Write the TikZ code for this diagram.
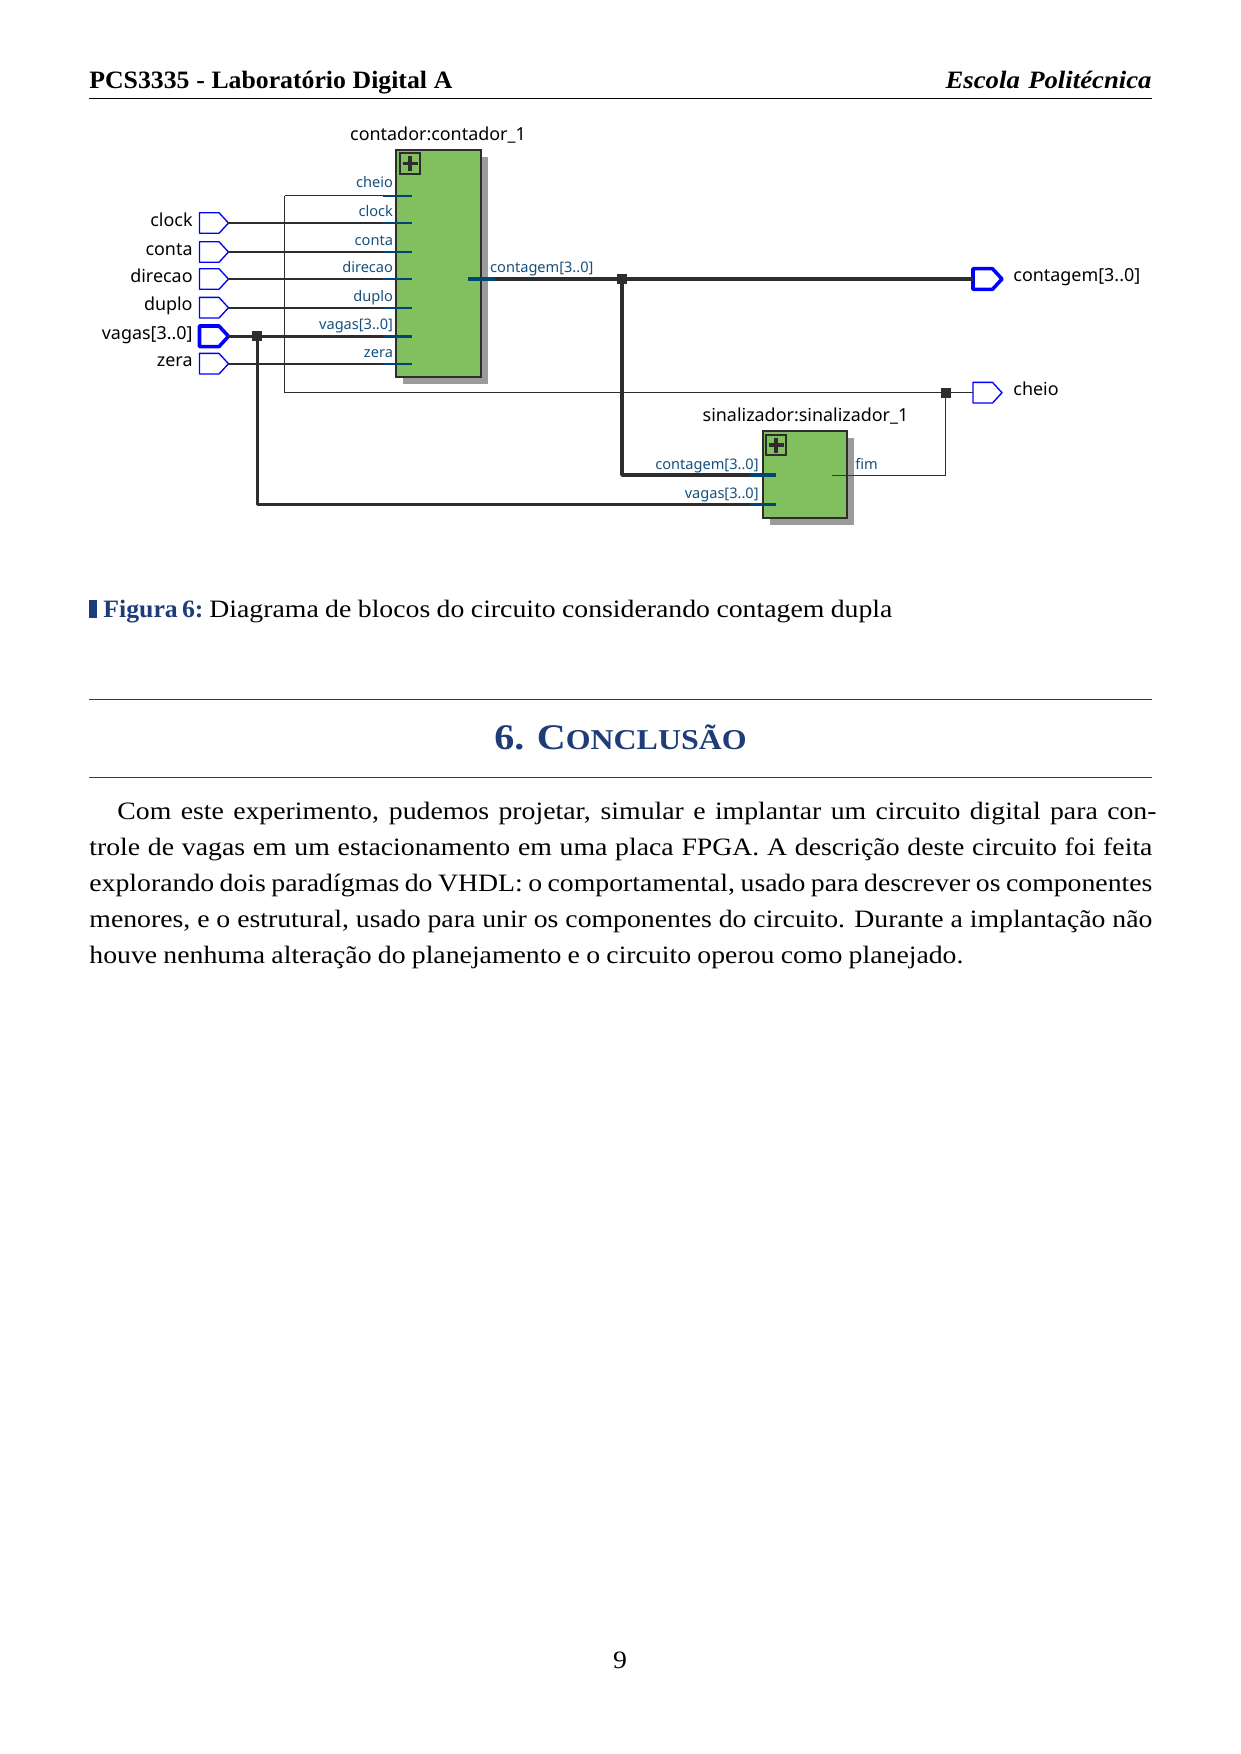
\documentclass[tikz,border=0pt]{standalone}
\usepackage{fontspec}
\setmainfont{Liberation Serif}[FakeStretch=1.11]
\newfontfamily\tightserif{Liberation Serif}[FakeStretch=1.03]
\newfontfamily\headital{Liberation Serif}[FakeStretch=1.07]
\newfontfamily\diag{Noto Sans}
\usetikzlibrary{calc}
\definecolor{wire}{RGB}{45,45,45}
\definecolor{portblue}{RGB}{0,70,115}
\definecolor{labblue}{RGB}{20,80,125}
\definecolor{pinblue}{RGB}{0,0,255}
\definecolor{boxgreen}{RGB}{130,192,95}
\definecolor{shade}{RGB}{155,155,155}
\definecolor{headblue}{RGB}{30,60,120}
\tikzset{
  x=0.48pt,y=-0.48pt,
  block/.style={draw=wire,fill=boxgreen,line width=0.8pt,inner sep=0pt},
  shadowbox/.style={fill=shade,draw=none,inner sep=0pt},
  wirethin/.style={draw=wire,line width=0.6pt},
  wiremid/.style={draw=wire,line width=0.75pt},
  wiresig/.style={draw=wire,line width=0.85pt},
  wirebus/.style={draw=wire,line width=1.7pt},
  stub/.style={draw=portblue,line width=0.85pt},
  stubbus/.style={draw=portblue,line width=1.7pt},
  pinthin/.style={draw=pinblue,line width=0.65pt,line join=round},
  pinbus/.style={draw=pinblue,line width=1.7pt,line join=round},
  junction/.style={fill=wire,draw=none,minimum size=4.8pt,inner sep=0pt},
  pinlab/.style={font=\diag\fontsize{8.6}{10}\selectfont,text=black,inner sep=0pt},
  portlab/.style={font=\diag\fontsize{7}{8}\selectfont,text=labblue,inner sep=0pt},
  bodytext/.style={font=\fontsize{12}{14}\selectfont,anchor=base west,inner sep=0pt},
  plusbox/.style={draw=wire,line width=0.8pt,fill=boxgreen,inner sep=0pt},
}
\newcommand{\pinshape}[3]{% style, x, y
  \draw[#1] (#2,#3-10.3) -- ++(19.5,0) -- ++(9.5,10.3) -- ++(-9.5,10.3) -- ++(-19.5,0) -- cycle;
}
\newcommand{\plussign}[2]{%
  \draw[wire,line width=1.5pt] (#1-7.5,#2) -- (#1+7.5,#2) (#1,#2-7.5) -- (#1,#2+7.5);
}
\newcommand{\bodyline}[5]{% name,x,y,width(px),text
  \node[bodytext] (#1) at (#2,#3) {\hbox to #4\dimexpr 0.48pt\relax{#5}};
}
\begin{document}
\begin{tikzpicture}
\useasboundingbox (0,0) rectangle (1241,1754);
\fill[white] (0,0) rectangle (1241,1754);

% page header
\node[bodytext] (headL) at (89,88) {\hbox to 363\dimexpr 0.48pt\relax{\tightserif\bfseries PCS3335 - Laboratório Digital A}};
\node[bodytext,anchor=base east] (headR) at (1152,88) {\hbox to 206\dimexpr 0.48pt\relax{\headital\bfseries\itshape Escola Politécnica}};
\coordinate (hruleL) at (89,98.5); \coordinate (hruleR) at (1152,98.5);
\draw[black,line width=0.45pt] (hruleL) -- (hruleR);

% blocks
\node[shadowbox,minimum width=85.4*0.48pt,minimum height=227.6*0.48pt] (shadowA) at (445.7,270.3) {};
\node[block,minimum width=85.4*0.48pt,minimum height=227.6*0.48pt] (contador) at (438.5,263.5) {};
\node[shadowbox,minimum width=84*0.48pt,minimum height=86.4*0.48pt] (shadowB) at (811.7,481.5) {};
\node[block,minimum width=84*0.48pt,minimum height=86.4*0.48pt] (sinal) at (805,474.5) {};
\node[plusbox,minimum width=20.6*0.48pt,minimum height=20.6*0.48pt] (plusA) at (410,163.6) {};
\plussign{410}{163.6}
\node[plusbox,minimum width=20.6*0.48pt,minimum height=20.6*0.48pt] (plusB) at (776,445) {};
\plussign{776}{445}

% titles
\node[pinlab,anchor=base] (titleA) at (438,140) {contador:contador\_1};
\node[pinlab,anchor=base] (titleB) at (805.5,421) {sinalizador:sinalizador\_1};

% port coordinates of the first block
\foreach \n/\y in {cheio/195.7,clock/223,conta/252,direcao/279,duplo/307.7,vagas/336.3,zera/363.7}{
  \coordinate (a\n) at (383,\y);
  \coordinate (ae\n) at (411.6,\y);
}
% input pins
\foreach \n/\y in {clock/223,conta/252,direcao/279,duplo/307.7,zera/363.7}{
  \pinshape{pinthin}{199.5}{\y}
  \coordinate (pin\n) at (228.4,\y);
  \node[pinlab,anchor=base east] (lab\n) at (193,\y+3) {\n};
  \draw[wiresig] (pin\n) -- (a\n);
  \draw[stub] (a\n) -- (ae\n);
}
\pinshape{pinbus}{199.5}{336.3}
\coordinate (pinvagas) at (228.4,336.3);
\node[pinlab,anchor=base east] (labvagas) at (193,339.3) {vagas[3..0]};

% output pins
\pinshape{pinbus}{973}{279}
\coordinate (pincont) at (973,279);
\node[pinlab,anchor=base west] (labcont) at (1013,281.5) {contagem[3..0]};
\pinshape{pinthin}{973}{392.7}
\coordinate (pincheio) at (973,392.7);
\node[pinlab,anchor=base west] (labcheio) at (1013,395.5) {cheio};

% junctions
\coordinate (jv) at (257.3,336.3);
\coordinate (jc) at (622,279);
\coordinate (jf) at (945.5,392.7);
\coordinate (cornerTop) at (284.5,195.7);
\coordinate (cornerBot) at (284.5,392.7);

% second block ports
\coordinate (bcont) at (750,475);
\coordinate (bconte) at (776,475);
\coordinate (bvag) at (750,504.3);
\coordinate (bvage) at (776,504.3);
\coordinate (bfim) at (860,475.7);
\coordinate (bfims) at (832,475.7);
\coordinate (aout) at (495,279);
\coordinate (aouts) at (468,279);

% nets
\draw[wirebus] (pinvagas) -- (avagas);
\draw[stubbus] (avagas) -- (aevagas);
\draw[wirebus,line join=round] (jv) |- (bvag);
\draw[stubbus] (bvag) -- (bvage);
\draw[wirebus] (aout) -- (pincont);
\draw[stubbus] (aouts) -- (aout);
\draw[wirebus,line join=round] (jc) |- (bcont);
\draw[stubbus] (bcont) -- (bconte);
\draw[wiremid] (acheio) -- (cornerTop);
\draw[wirethin] (cornerTop) -- (cornerBot) -- (pincheio);
\draw[stub] (acheio) -- (aecheio);
\draw[wiremid] (bfim) -- (bfim -| jf);
\draw[wirethin] (bfim -| jf) -- (jf);
\draw[stub,line width=0.7pt] (bfims) -- (bfim);
\node[junction] (jvn) at (jv) {};
\node[junction] (jcn) at (jc) {};
\node[junction] (jfn) at (jf) {};

% port labels
\foreach \n/\t/\y in {cheio/cheio/187,clock/clock/216,conta/conta/245,direcao/direcao/272,duplo/duplo/301,vagas/{vagas[3..0]}/329,zera/zera/357}{
  \node[portlab,anchor=base east] (pl\n) at (393.4,\y) {\t};
}
\node[portlab,anchor=base west] (plout) at (489.8,272.5) {contagem[3..0]};
\node[portlab,anchor=base east] (plbc) at (759,469) {contagem[3..0]};
\node[portlab,anchor=base east] (plbv) at (759,498) {vagas[3..0]};
\node[portlab,anchor=base west] (plfim) at (855,469) {fim};

% caption
\fill[headblue] (89,600) rectangle (97,618);
\node[bodytext] (capA) at (103,617.7) {\hbox to 98\dimexpr 0.48pt\relax{\tightserif\bfseries\color{headblue}Figura 6:}};
\bodyline{capB}{209}{617.7}{683}{Diagrama de blocos do circuito considerando contagem dupla}

% section heading
\coordinate (r1L) at (89,699); \coordinate (r1R) at (1152,699);
\coordinate (r2L) at (89,777); \coordinate (r2R) at (1152,777);
\draw[headblue,line width=0.45pt] (r1L) -- (r1R);
\draw[headblue,line width=0.45pt] (r2L) -- (r2R);
\node[anchor=base,inner sep=0pt,text=headblue] (sec) at (620.5,749) {\bfseries\fontsize{17.3}{20}\selectfont 6.\hspace{0.35em}C\fontsize{13.8}{20}\selectfont ONCLUSÃO};

% paragraph
\bodyline{l1}{117}{819.7}{1039}{Com este experimento, pudemos projetar, simular e implantar um circuito digital para con-}
\bodyline{l2}{89}{855.7}{1063}{trole de vagas em um estacionamento em uma placa FPGA. A descrição deste circuito foi feita}
\bodyline{l3}{89}{891.7}{1063}{explorando dois paradígmas do VHDL: o comportamental, usado para descrever os componentes}
\bodyline{l4}{89}{927.7}{1063}{menores, e o estrutural, usado para unir os componentes do circuito. Durante a implantação não}
\bodyline{l5}{89}{963.7}{874}{houve nenhuma alteração do planejamento e o circuito operou como planejado.}

\node[bodytext,anchor=base] (pg) at (620,1668) {9};
\end{tikzpicture}
\end{document}
